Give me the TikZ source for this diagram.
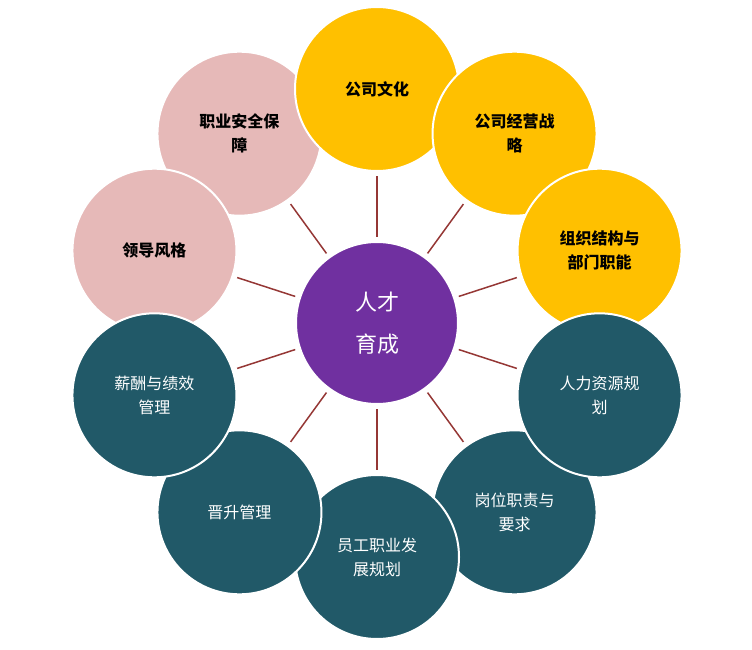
\documentclass[tikz,border=0pt]{standalone}
\usepackage{fontspec}
\usetikzlibrary{calc}
\newfontfamily\cjk{Noto Sans CJK SC}
\definecolor{gold}{HTML}{FFC000}
\definecolor{pinkc}{HTML}{E6B9B8}
\definecolor{teal}{HTML}{215968}
\definecolor{purp}{HTML}{7030A0}
\definecolor{linec}{HTML}{953735}
\begin{document}
\begin{tikzpicture}[x=1pt,y=1pt,
  outer/.style={circle,minimum size=164pt,draw=white,line width=2pt,align=center,font=\cjk\fontsize{16}{24}\selectfont,text width=120pt},
  goldc/.style={outer,fill=gold,font=\cjk\bfseries\fontsize{16}{24}\selectfont},
  pinkb/.style={outer,fill=pinkc,font=\cjk\bfseries\fontsize{16}{24}\selectfont},
  tealc/.style={outer,fill=teal,text=white},
  conn/.style={draw=linec,line width=1.5pt}]
\useasboundingbox (0,0) rectangle (752,649);
\def\R{234}
\coordinate (c) at (377,326);
\node[pinkb] (o10) at ($(c)+(126:\R)$) {职业安全保\\障};
\node[goldc] (o1) at ($(c)+(90:\R)$) {公司文化};
\node[goldc] (o2) at ($(c)+(54:\R)$) {公司经营战\\略};
\node[goldc] (o3) at ($(c)+(18:\R)$) {组织结构与\\部门职能};
\node[pinkb] (o9) at ($(c)+(162:\R)$) {领导风格};
\node[tealc] (o5) at ($(c)+(306:\R)$) {岗位职责与\\要求};
\node[tealc] (o4) at ($(c)+(342:\R)$) {人力资源规\\划};
\node[tealc] (o6) at ($(c)+(270:\R)$) {员工职业发\\展规划};
\node[tealc] (o7) at ($(c)+(234:\R)$) {晋升管理};
\node[tealc] (o8) at ($(c)+(198:\R)$) {薪酬与绩效\\管理};
\node[circle,minimum size=162pt,fill=purp,draw=white,line width=2pt,text=white,align=center,font=\cjk\fontsize{22}{42}\selectfont] (ctr) at (c) {人才\\育成};
\foreach \i/\a in {1/90,2/54,3/18,4/-18,5/-54,6/-90,7/-126,8/-162,9/162,10/126}{
  \path (ctr.\a) ++(\a:4) coordinate (s\i);
  \path (o\i.\a+180) ++(\a:-4) coordinate (e\i);
  \draw[conn] (s\i) -- (e\i);
}
\end{tikzpicture}
\end{document}
